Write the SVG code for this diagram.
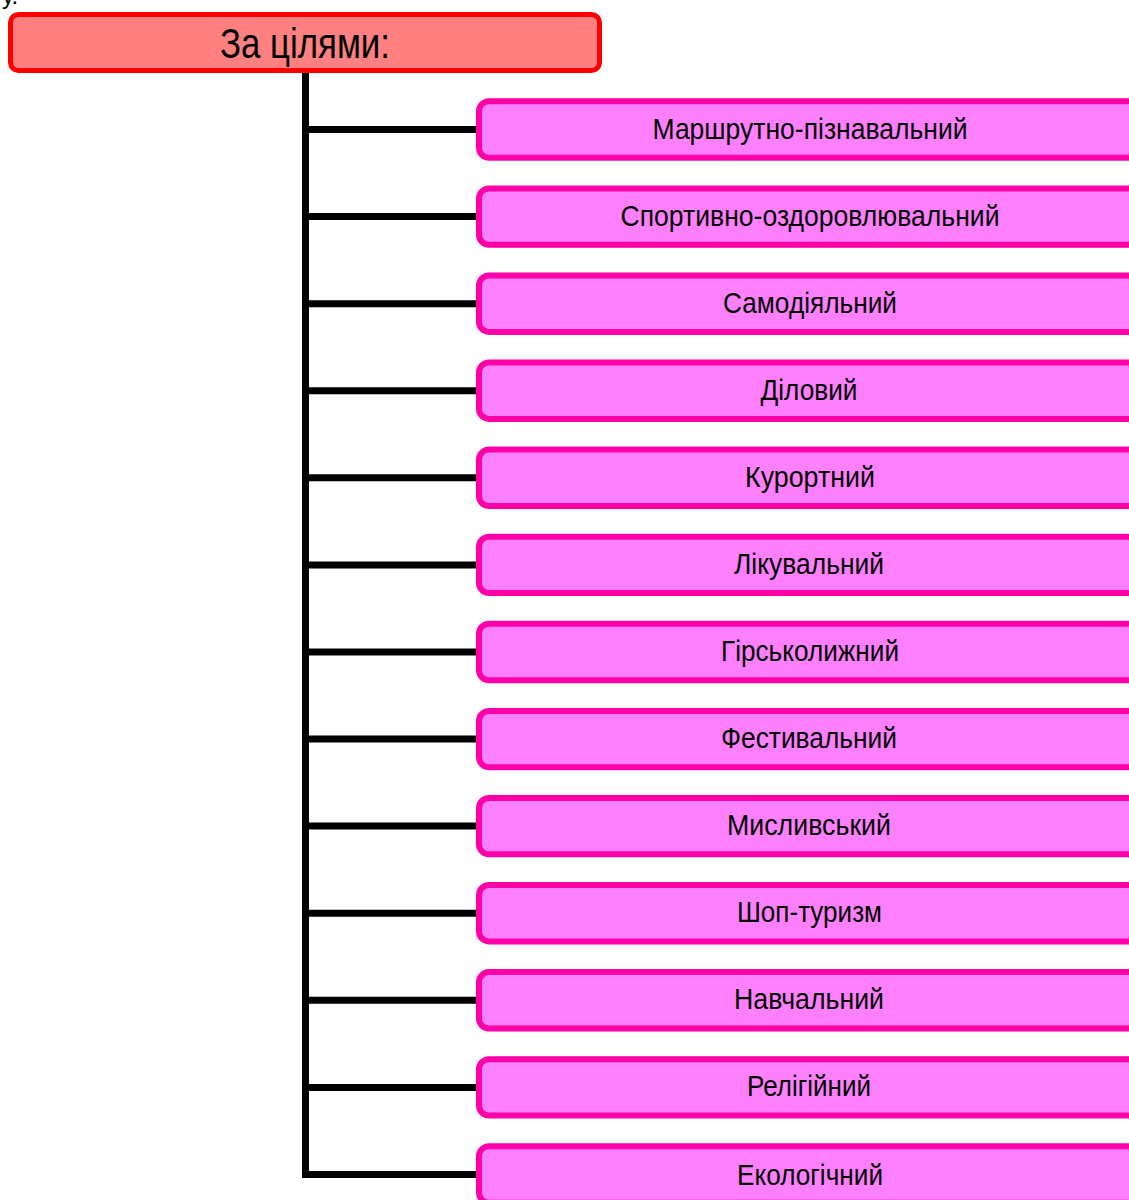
<svg xmlns="http://www.w3.org/2000/svg" width="1129" height="1200" viewBox="0 0 1129 1200">
<style>
.t{font-family:"Liberation Sans",Arial,sans-serif;fill:#000;text-anchor:middle}
.lbl{font-size:29px}
.node rect{fill:#FF80FF;stroke:#FF00A8;stroke-width:6}
.conn{stroke:#000;stroke-width:7;fill:none;stroke-linejoin:miter}
</style>
<rect width="1129" height="1200" fill="#fff"/>
<text x="2" y="4" style="font-family:'Liberation Sans',Arial,sans-serif;font-size:24px">у.</text>
<g id="connectors">
<path class="conn" d="M305.5 72 V1174.5 H479"/>
<path class="conn" d="M305.5 129.5 H479 M305.5 216.6 H479 M305.5 303.7 H479 M305.5 390.7 H479 M305.5 477.8 H479 M305.5 564.9 H479 M305.5 652 H479 M305.5 739.1 H479 M305.5 826.1 H479 M305.5 913.2 H479 M305.5 1000.3 H479 M305.5 1087.4 H479"/>
</g>
<g id="root">
<rect x="10.5" y="14.5" width="589" height="56" rx="8" fill="#FF8080" stroke="#FF0000" stroke-width="5"/>
<text class="t" x="305" y="58" font-size="42" textLength="170" lengthAdjust="spacingAndGlyphs">За цілями:</text>
</g>
<g id="n1" class="node"><rect x="479" y="101.3" width="700" height="56.4" rx="10"/><text class="t lbl" x="810" y="138.5" textLength="315" lengthAdjust="spacingAndGlyphs">Маршрутно-пізнавальний</text></g>
<g id="n2" class="node"><rect x="479" y="188.4" width="700" height="56.4" rx="10"/><text class="t lbl" x="810" y="225.6" textLength="379" lengthAdjust="spacingAndGlyphs">Спортивно-оздоровлювальний</text></g>
<g id="n3" class="node"><rect x="479" y="275.5" width="700" height="56.4" rx="10"/><text class="t lbl" x="810" y="312.7" textLength="174" lengthAdjust="spacingAndGlyphs">Самодіяльний</text></g>
<g id="n4" class="node"><rect x="479" y="362.5" width="700" height="56.4" rx="10"/><text class="t lbl" x="809" y="399.7" textLength="97" lengthAdjust="spacingAndGlyphs">Діловий</text></g>
<g id="n5" class="node"><rect x="479" y="449.6" width="700" height="56.4" rx="10"/><text class="t lbl" x="810" y="486.8" textLength="130" lengthAdjust="spacingAndGlyphs">Курортний</text></g>
<g id="n6" class="node"><rect x="479" y="536.7" width="700" height="56.4" rx="10"/><text class="t lbl" x="809" y="573.9" textLength="150" lengthAdjust="spacingAndGlyphs">Лікувальний</text></g>
<g id="n7" class="node"><rect x="479" y="623.8" width="700" height="56.4" rx="10"/><text class="t lbl" x="810" y="661" textLength="178" lengthAdjust="spacingAndGlyphs">Гірськолижний</text></g>
<g id="n8" class="node"><rect x="479" y="710.9" width="700" height="56.4" rx="10"/><text class="t lbl" x="809" y="748.1" textLength="176" lengthAdjust="spacingAndGlyphs">Фестивальний</text></g>
<g id="n9" class="node"><rect x="479" y="797.9" width="700" height="56.4" rx="10"/><text class="t lbl" x="809" y="835.1" textLength="164" lengthAdjust="spacingAndGlyphs">Мисливський</text></g>
<g id="n10" class="node"><rect x="479" y="885" width="700" height="56.4" rx="10"/><text class="t lbl" x="809.5" y="922.2" textLength="145" lengthAdjust="spacingAndGlyphs">Шоп-туризм</text></g>
<g id="n11" class="node"><rect x="479" y="972.1" width="700" height="56.4" rx="10"/><text class="t lbl" x="809" y="1009.3" textLength="150" lengthAdjust="spacingAndGlyphs">Навчальний</text></g>
<g id="n12" class="node"><rect x="479" y="1059.2" width="700" height="56.4" rx="10"/><text class="t lbl" x="809" y="1096.4" textLength="124" lengthAdjust="spacingAndGlyphs">Релігійний</text></g>
<g id="n13" class="node"><rect x="479" y="1146.3" width="700" height="56.4" rx="10"/><text class="t lbl" x="810" y="1184.5" textLength="146" lengthAdjust="spacingAndGlyphs">Екологічний</text></g>
</svg>
